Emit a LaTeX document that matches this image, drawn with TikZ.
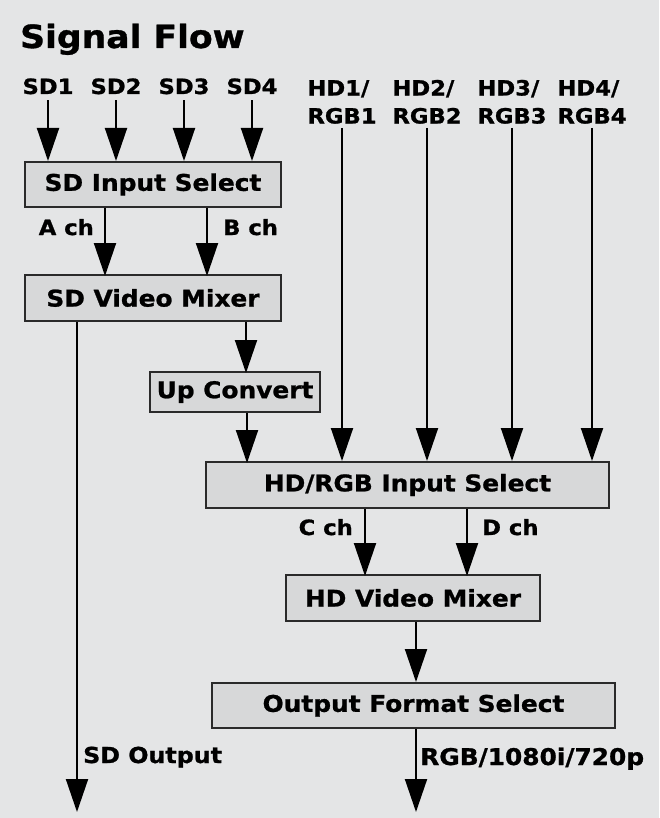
\documentclass[tikz,border=0pt]{standalone}
\usepackage{fontspec}
\newfontfamily\flowfont{DejaVu Sans}[UprightFont={* Bold}, FakeStretch=1.08, FakeBold=1]
\usetikzlibrary{arrows.meta}
\definecolor{bgcol}{HTML}{E4E5E6}
\definecolor{boxcol}{HTML}{D7D8D9}
\definecolor{edgecol}{HTML}{2A2A2A}

\begin{document}
\begin{tikzpicture}[x=1pt,y=-1pt,
  blk/.style={draw=edgecol, line width=2pt, fill=boxcol, inner sep=0pt, font=\flowfont\fontsize{23}{26}\selectfont},
  lbl/.style={inner sep=0pt, font=\flowfont\fontsize{21}{28}\selectfont},
  flow/.style={line width=2pt, -{Triangle[width=22pt,length=33pt]}}]
  \fill[bgcol] (0,0) rectangle (659,818);
  \useasboundingbox (0,0) rectangle (659,818);

  \node[inner sep=0pt, anchor=base west, font=\flowfont\fontsize{32}{36}\selectfont] (title) at (20,48) {Signal Flow};

  \node[lbl, anchor=base] (sd1) at (48,94) {SD1};
  \node[lbl, anchor=base] (sd2) at (116,94) {SD2};
  \node[lbl, anchor=base] (sd3) at (184,94) {SD3};
  \node[lbl, anchor=base] (sd4) at (252,94) {SD4};
  \node[lbl, anchor=south, align=left] (hd1) at (342,124) {HD1/\\RGB1};
  \node[lbl, anchor=south, align=left] (hd2) at (427,124) {HD2/\\RGB2};
  \node[lbl, anchor=south, align=left] (hd3) at (512,124) {HD3/\\RGB3};
  \node[lbl, anchor=south, align=left] (hd4) at (592,124) {HD4/\\RGB4};

  \node[blk, minimum width=256pt, minimum height=45pt] (sdsel) at (153,184.5) {SD Input Select};
  \node[blk, minimum width=256pt, minimum height=46pt] (sdmix) at (153,298) {SD Video Mixer};
  \node[blk, minimum width=170pt, minimum height=40pt] (upconv) at (235,392) {Up Convert};
  \node[blk, minimum width=403pt, minimum height=46pt] (hdsel) at (407.5,485) {HD/RGB Input Select};
  \node[blk, minimum width=254pt, minimum height=46pt] (hdmix) at (413,598) {HD Video Mixer};
  \node[blk, minimum width=403pt, minimum height=45pt] (outsel) at (413.5,705.5) {Output Format Select};

  \node[lbl, anchor=base east] (ach) at (94,235) {A ch};
  \node[lbl, anchor=base west] (bch) at (223,235) {B ch};
  \node[lbl, anchor=base east] (cch) at (353,535) {C ch};
  \node[lbl, anchor=base west] (dch) at (482,535) {D ch};
  \node[lbl, anchor=base west, font=\flowfont\fontsize{22}{28}\selectfont] (sdout) at (83,763) {SD Output};
  \node[lbl, anchor=base west, font=\flowfont\fontsize{23}{28}\selectfont] (hdout) at (420,765) {RGB/1080i/720p};

  \coordinate (sdend) at (77,812);
  \coordinate (hdend) at (416,812);

  \foreach \s in {sd1,sd2,sd3,sd4}
    \draw[flow] ([yshift=-6pt]\s.south) -- (\s |- sdsel.north);
  \foreach \h in {hd1,hd2,hd3,hd4}
    \draw[flow] ([yshift=-4pt]\h.south) -- (\h |- hdsel.north);

  \draw[flow] (sdsel.south -| ach.east) ++(11,0) -- ++(0,68);
  \draw[flow] (sdsel.south -| bch.west) ++(-16,0) -- ++(0,68);
  \draw[flow] (sdmix.south -| upconv.center) ++(11,0) -- ++(0,51);
  \draw[flow] (upconv.south) ++(12,0) -- ++(0,50);
  \draw[flow] (hdsel.south -| cch.east) ++(12,0) -- ++(0,67);
  \draw[flow] (hdsel.south -| dch.west) ++(-15,0) -- ++(0,67);
  \draw[flow] (hdmix.south) ++(3,0) -- (outsel.north -| hdend);
  \draw[flow] (sdmix.south -| sdend) -- (sdend);
  \draw[flow] (outsel.south -| hdend) -- (hdend);
\end{tikzpicture}
\end{document}
